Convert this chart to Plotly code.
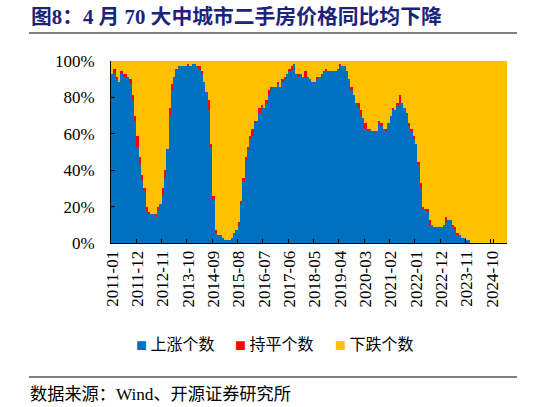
import plotly.graph_objects as go

# ---------------- data ----------------
months = [f"{y}-{m:02d}" for y in range(2011, 2026) for m in range(1, 13)][:172]

up = [65, 65, 63, 62, 65, 64, 64, 64, 61, 55,
      47, 37, 30, 24, 20, 12, 11, 11, 11, 10,
      13, 15, 18, 25, 36, 49, 59, 64, 67, 68,
      68, 68, 68, 68, 68, 69, 69, 68, 67, 65,
      62, 58, 51, 37, 17, 4, 3, 3, 2, 1,
      1, 1, 2, 4, 5, 7, 15, 24, 32, 36,
      40, 41, 46, 47, 50, 52, 52, 54, 57, 59,
      60, 60, 61, 60, 62, 63, 65, 66, 67, 69,
      65, 64, 65, 64, 64, 64, 63, 62, 62, 63,
      64, 65, 66, 66, 66, 66, 66, 66, 67, 68,
      68, 68, 66, 63, 59, 57, 54, 52, 49, 48,
      44, 43, 44, 43, 43, 43, 46, 45, 44, 43,
      46, 49, 51, 51, 53, 54, 54, 52, 50, 45,
      43, 40, 38, 30, 21, 13, 13, 12, 7, 7,
      6, 6, 6, 6, 7, 8, 9, 9, 6, 5,
      3, 3, 2, 2, 1, 1, 0, 0, 0, 0,
      0, 0, 0, 0, 0, 0, 0, 0, 0, 0,
      0, 0]

flat = [0, 2, 1, 0, 1, 1, 1, 0, 2, 2,
        2, 4, 3, 2, 1, 2, 1, 0, 0, 1,
        1, 0, 3, 3, 0, 3, 2, 0, 0, 0,
        0, 0, 0, 1, 0, 0, 0, 0, 1, 1,
        0, 0, 4, 1, 1, 1, 0, 0, 0, 0,
        0, 0, 0, 0, 0, 1, 1, 1, 1, 1,
        1, 3, 1, 0, 2, 1, 0, 1, 2, 1,
        0, 0, 1, 0, 1, 1, 0, 1, 1, 0,
        0, 1, 0, 0, 2, 0, 0, 0, 0, 1,
        0, 0, 0, 1, 0, 0, 0, 0, 0, 1,
        0, 0, 0, 0, 1, 0, 0, 2, 2, 0,
        2, 1, 0, 0, 0, 0, 1, 1, 0, 1,
        0, 0, 1, 0, 1, 3, 0, 0, 0, 1,
        1, 1, 0, 1, 2, 1, 0, 1, 2, 0,
        0, 0, 0, 0, 0, 2, 0, 0, 1, 1,
        1, 0, 0, 0, 0, 0, 0, 0, 0, 0,
        0, 0, 0, 0, 0, 0, 0, 0, 0, 0,
        0, 0]

down = [5, 3, 6, 8, 4, 5, 5, 6, 7, 13,
        21, 29, 37, 44, 49, 56, 58, 59, 59, 59,
        56, 55, 49, 42, 34, 18, 9, 6, 3, 2,
        2, 2, 2, 1, 2, 1, 1, 2, 2, 4,
        8, 12, 15, 32, 52, 65, 67, 67, 68, 69,
        69, 69, 68, 66, 65, 62, 54, 45, 37, 33,
        29, 26, 23, 23, 18, 17, 18, 15, 11, 10,
        10, 10, 8, 10, 7, 6, 5, 3, 2, 1,
        5, 5, 5, 6, 4, 6, 7, 8, 8, 6,
        6, 5, 4, 3, 4, 4, 4, 4, 3, 1,
        2, 2, 4, 7, 10, 13, 16, 16, 19, 22,
        24, 26, 26, 27, 27, 27, 23, 24, 26, 26,
        24, 21, 18, 19, 16, 13, 16, 18, 20, 24,
        26, 29, 32, 39, 47, 56, 57, 57, 61, 63,
        64, 64, 64, 64, 63, 60, 61, 61, 63, 64,
        66, 67, 68, 68, 69, 69, 70, 70, 70, 70,
        70, 70, 70, 70, 70, 70, 70, 70, 70, 70,
        70, 70]

tick_labels = ["2011-01", "2011-12", "2012-11", "2013-10", "2014-09", "2015-08",
               "2016-07", "2017-06", "2018-05", "2019-04", "2020-03", "2021-02",
               "2022-01", "2022-12", "2023-11", "2024-10"]

y_tick_vals = [0, 20, 40, 60, 80, 100]
y_tick_text = ["0%", "20%", "40%", "60%", "80%", "100%"]

series_names = ["上涨个数", "持平个数", "下跌个数"]
series_colors = ["#0070C0", "#FF0000", "#FFC000"]

# ---------------- layout helpers ----------------
W, H = 546, 407
L, R, T, B = 111, 507, 61, 243


def px(x):
    return (x - L) / (R - L)


def py(y):
    return (B - y) / (B - T)


SERIF = "Liberation Serif, Noto Sans CJK SC"
CJK = "Noto Sans CJK SC"

fig = go.Figure()
for name, vals, color in zip(series_names, [up, flat, down], series_colors):
    fig.add_bar(x=months, y=vals, name=name, showlegend=False,
                marker=dict(color=color, line=dict(width=0)))

# legend entries: one legend per series so spacing matches the reference
legend_ids = ["legend", "legend2", "legend3"]
legend_square_x = [137, 236, 336]
for name, color, lid in zip(series_names, series_colors, legend_ids):
    fig.add_scatter(x=[None], y=[None], mode="markers", legend=lid,
                    name=f"<span style='color:{color};font-size:11px'>■</span> {name}",
                    marker=dict(symbol="square", size=0, opacity=0,
                                color="rgba(0,0,0,0)", line=dict(width=0)))

legend_common = dict(orientation="h", xanchor="left", y=py(344), yanchor="middle",
                     font=dict(family=CJK, size=16, color="black"), itemwidth=30,
                     bgcolor="rgba(0,0,0,0)", borderwidth=0)
legends = {}
for lid, sx in zip(legend_ids, legend_square_x):
    legends[lid] = dict(legend_common, x=px(sx - 41))

fig.update_layout(
    width=W, height=H,
    margin=dict(l=L, r=W - R, t=T, b=H - B, pad=0),
    barmode="stack", barnorm="percent", bargap=0,
    plot_bgcolor="white", paper_bgcolor="white",
    showlegend=True,
    xaxis=dict(type="category", categoryorder="array", categoryarray=months,
               tickvals=tick_labels, ticktext=tick_labels, tickangle=-90,
               tickson="boundaries", ticks="inside", ticklen=4, tickcolor="black",
               showline=True, linecolor="black", linewidth=1, showgrid=False,
               tickfont=dict(family=SERIF, size=17, color="black"), zeroline=False),
    yaxis=dict(range=[0, 100], tickvals=y_tick_vals, ticktext=y_tick_text,
               ticks="inside", ticklen=4, tickcolor="black", showline=True,
               linecolor="black", linewidth=1, showgrid=False, zeroline=False,
               ticklabelstandoff=12,
               tickfont=dict(family=SERIF, size=17, color="black")),
    **legends,
)

fig.add_annotation(x=px(29), y=py(16), xref="paper", yref="paper", xanchor="left",
                   yanchor="middle", showarrow=False,
                   text="<b>图8：4 月 70 大中城市二手房价格同比均下降</b>",
                   font=dict(family=SERIF, size=20.8, color="#1B237A"))
fig.add_shape(type="line", xref="paper", yref="paper", x0=px(29), x1=px(517),
              y0=py(33), y1=py(33), line=dict(color="black", width=1))
fig.add_shape(type="line", xref="paper", yref="paper", x0=px(29), x1=px(517),
              y0=py(377), y1=py(377), line=dict(color="#7F7F7F", width=2))
fig.add_annotation(x=px(28), y=py(394), xref="paper", yref="paper", xanchor="left",
                   yanchor="middle", showarrow=False,
                   text="数据来源：Wind、开源证券研究所",
                   font=dict(family=SERIF, size=17.2, color="black"))

fig.write_html("out.html", config={"displayModeBar": False},
               post_script="document.body.style.margin='0px';document.body.style.overflow='hidden';")
